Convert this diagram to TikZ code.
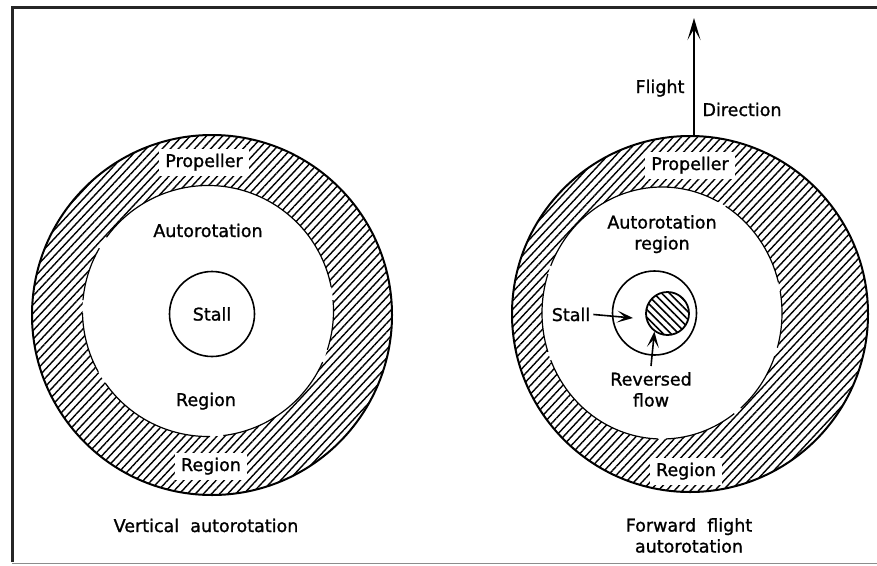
\documentclass[tikz,border=0pt]{standalone}
\usepackage{fontspec}
\setmainfont{DejaVu Sans}
\newfontfamily\lblfont{DejaVu Sans}[FakeBold=1.2]
\usetikzlibrary{patterns.meta,arrows.meta}
\begin{document}
\begin{tikzpicture}[x=1pt,y=-1pt,
  lbl/.style={inner sep=0pt, font=\lblfont\fontsize{17.5}{21}\selectfont},
  boxlbl/.style={lbl, fill=white, inner xsep=6pt, inner ysep=5pt, text height=13.3pt, text depth=4.1pt},
  hatchring/.style={pattern={Lines[angle=47,distance=5.9pt,line width=1.4pt]}, even odd rule},
  rim/.style={line width=2pt},
  innerrim/.style={line width=1.2pt},
  arr/.style={line width=1.6pt, -{Stealth[length=16pt,width=12pt,inset=8pt]}},
]
\useasboundingbox (0,0) rectangle (877,565);
% frame
\draw[line width=3pt, black!85] (12,562) -- (12,7.5) -- (877,7.5);
\draw[line width=1.2pt, black!45] (12,563.5) -- (877,563.5);
% left ring
\coordinate (LO) at (212,315);
\coordinate (LI) at (208,311);
\fill[hatchring] (LO) circle[radius=180pt] (LI) circle[radius=125.5pt];
\draw[rim] (LO) circle[radius=180pt];
\foreach \a/\b in {11/144, 150/175, 181/209, 215/271, 277/336, 342/365}
  \draw[innerrim] (LI) ++(\a:125.5pt) arc[start angle=\a, end angle=\b, radius=125.5pt];
% right ring
\coordinate (RO) at (690,314);
\coordinate (RI) at (662,313);
\fill[hatchring] (RO) circle[radius=178pt] (RI) ellipse[x radius=120pt, y radius=126pt];
\draw[rim] (RO) circle[radius=178pt];
\foreach \a/\b in {14/58, 62/158, 162/198, 202/268, 272/307, 311/340, 344/370}
  \draw[innerrim] (RI) ++(\a:120pt and 126pt) arc[start angle=\a, end angle=\b, x radius=120pt, y radius=126pt];
% stall circles
\node[lbl, draw, circle, line width=1.6pt, minimum size=85pt] (stallL) at (212,314) {Stall};
\node[draw, circle, line width=1.6pt, minimum size=84pt, inner sep=0pt] (stallC) at (654.5,313) {};
\node[draw, circle, line width=1.8pt, minimum size=43pt, inner sep=0pt,
      pattern={Lines[angle=-45,distance=5.5pt,line width=1.6pt]}] (hatch) at (667.5,313.5) {};
% left labels
\node[boxlbl, anchor=base] (propL) at (204,167) {Propeller};
\node[lbl, anchor=base] (autoL) at (208,237) {Autorotation};
\node[lbl, anchor=base] (regL) at (206,406) {Region};
\node[boxlbl, anchor=base] (regLb) at (211,471) {Region};
\node[lbl, anchor=base] (capL) at (206,532) {Vertical\ \ autorotation};
% right labels
\node[boxlbl, anchor=base] (propR) at (690,170) {Propeller};
\node[lbl, align=center, anchor=north] (autoR) at (662,215) {Autorotation\\region};
\node[lbl, anchor=base] (stallR) at (571,321) {Stall};
\node[lbl, align=center, anchor=north] (revR) at (651,372) {Reversed\\flow};
\node[boxlbl, anchor=base] (regRb) at (686,476) {Region};
\node[lbl, align=center, anchor=north] (capR) at (689,518) {Forward\ \ flight\\autorotation};
\node[lbl, anchor=base] (flight) at (660,93) {Flight};
\node[lbl, anchor=base] (dir) at (742,116) {Direction};
% arrows
\coordinate (stalltip) at (633,318);
\draw[arr] ([xshift=3pt]stallR.east) -- (stalltip);
\draw[arr] ([yshift=6pt]revR.north) -- (hatch.234);
\coordinate (ringtop) at (694,136);
\coordinate (fdtip) at (694,18);
\draw[line width=1.6pt, -{Stealth[length=22pt,width=13pt,inset=11pt]}] (ringtop) -- (fdtip);
\end{tikzpicture}
\end{document}
